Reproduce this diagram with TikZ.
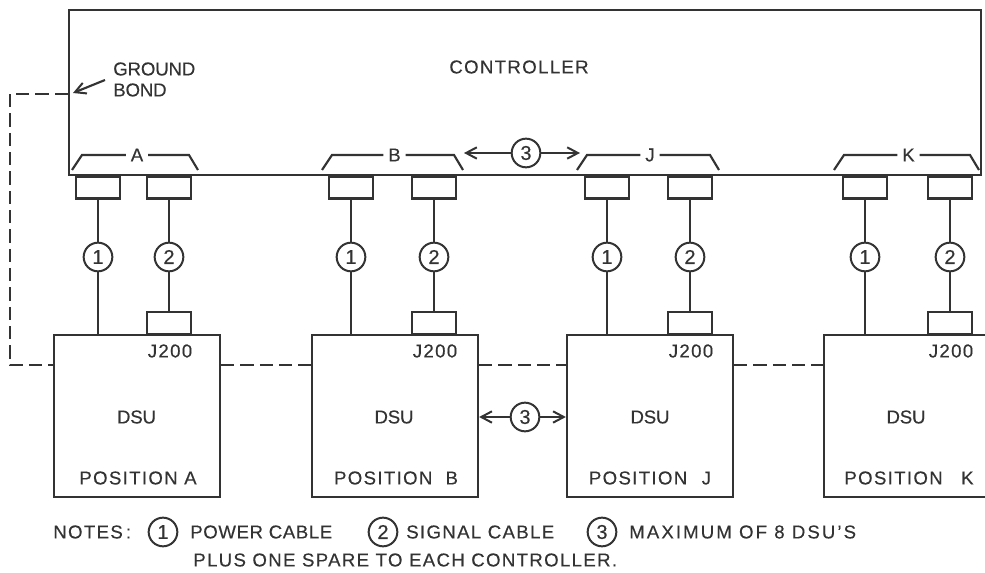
\documentclass[tikz,border=0pt]{standalone}
\usepackage{fontspec}
\setmainfont[LetterSpace=7,FakeBold=0.3]{Liberation Sans}
\usepackage{tikz}
\usetikzlibrary{arrows.meta}
\definecolor{ink}{gray}{0.2}
\tikzset{
    wire/.style={line width=1.6pt, draw=ink},
    dashwire/.style={wire, dash pattern=on 10pt off 4.5pt},
    barb/.style={-{Straight Barb[length=8pt,width=8.5pt,line width=1.5pt]}},
    portbox/.style={draw=ink, line width=1.6pt, minimum width=32.5pt, minimum height=16.5pt, inner sep=0pt},
    dsubox/.style={draw=ink, line width=1.7pt, minimum width=124.5pt, minimum height=121.5pt, inner sep=0pt},
    cablemark/.style={circle, draw=ink, line width=1.5pt, minimum size=21.5pt, inner sep=0pt, text=ink, font=\fontsize{15}{15}\selectfont},
    lbl/.style={text=ink, inner sep=0pt, font=\fontsize{14}{16}\selectfont},
    tightlbl/.style={lbl, font=\fontsize{14}{16}\selectfont\addfontfeature{LetterSpace=-1}},
}

\begin{document}
\begin{tikzpicture}[x=0.75pt, y=-0.75pt]
        \useasboundingbox (0,0) rectangle (985,573);
        \node[draw=ink, line width=1.7pt, minimum width=684pt, minimum height=123.75pt, inner sep=0pt] (ctrl) at (525,92.5) {};
        \node[lbl] (ctrllbl) at (519,67) {CONTROLLER};
        \node[tightlbl, anchor=west] (gndlbl) at (113,69) {GROUND};
        \node[tightlbl, anchor=west] (bondlbl) at (113,90) {BOND};
        \coordinate (bondtail) at (105,80);
        \coordinate (bondtip) at (73,93);
        \draw[wire, barb] (bondtail) -- (bondtip);
        \coordinate (gnda) at (10,94);
        \coordinate (gndb) at (10,365);

        % one column for every controller position
        \foreach \u/\xp/\xs/\bl/\br/\xd/\xt/\xl/\gp in {A/98/169/72/198/137/136.5/138/0, B/351/434/322/463/395/394/396/5, J/607/690/577/719/650/650/650/6, K/865/950/834/979/907/906/909/9} {
            \node[lbl, inner xsep=3.5pt] (brk\u) at ({(\bl+\br)/2+2},155) {\u};
            \draw[wire] (brk\u.west) -- (\bl+10,155) -- (\bl,170);
            \draw[wire] (brk\u.east) -- (\br-9,155) -- (\br,170);
            \node[portbox, anchor=north] (pp\u) at (\xp,175.5) {};
            \node[portbox, anchor=north] (sp\u) at (\xs,175.5) {};
            \node[dsubox] (dsu\u) at (\xd,416) {};
            \node[portbox, anchor=south] (jp\u) at (\xs,335) {};
            \node[cablemark] (pm\u) at (\xp,257) {1};
            \node[cablemark] (sm\u) at (\xs,257) {2};
            \draw[wire] (pp\u) -- (pm\u);
            \draw[wire] (pm\u) -- (\xp,335);
            \draw[wire] (sp\u) -- (sm\u);
            \draw[wire] (sm\u) -- (jp\u);
            \node[lbl] (jl\u) at (\xs+1,351) {J200};
            \node[tightlbl] (dl\u) at (\xt,417) {DSU};
            \node[lbl] (pl\u) at (\xl,478) {POSITION\hspace{\gp pt} \u};
        }

        \draw[dashwire] (ctrl.west |- gnda) -- (gnda) -- (gndb) -- (dsuA.west |- gndb);
        \draw[dashwire] (dsuA.east |- gndb) -- (dsuB.west |- gndb);
        \draw[dashwire] (dsuB.east |- gndb) -- (dsuJ.west |- gndb);
        \draw[dashwire] (dsuJ.east |- gndb) -- (dsuK.west |- gndb);

        \node[cablemark] (topsp) at (526,153) {3};
        \coordinate (topl) at (464,153);
        \coordinate (topr) at (580,153);
        \draw[wire, barb] (topsp) -- (topl);
        \draw[wire, barb] (topsp) -- (topr);
        \node[cablemark] (lowsp) at (525,417) {3};
        \draw[wire, barb] (lowsp) -- (dsuB.east |- lowsp);
        \draw[wire, barb] (lowsp) -- (dsuJ.west |- lowsp);

        % notes below the units
        \node[lbl, anchor=west] (notelbl) at (53,532) {NOTES\,:};
        \node[cablemark] (note1) at (163,532) {1};
        \node[lbl, anchor=west, font=\fontsize{14}{16}\selectfont\addfontfeature{LetterSpace=3}] (pwrlbl) at (190,532) {POWER CABLE};
        \node[cablemark] (note2) at (383,532) {2};
        \node[lbl, anchor=west] (siglbl) at (406,532) {SIGNAL CABLE};
        \node[cablemark] (note3) at (602,532) {3};
        \node[lbl, anchor=west, font=\fontsize{14}{16}\selectfont\addfontfeature{LetterSpace=11}] (maxlbl) at (629,532) {MAXIMUM OF 8 DSU'S};
        \node[lbl, anchor=west] (sparelbl) at (193,560) {PLUS ONE SPARE TO EACH CONTROLLER.};
    \end{tikzpicture}
\end{document}
